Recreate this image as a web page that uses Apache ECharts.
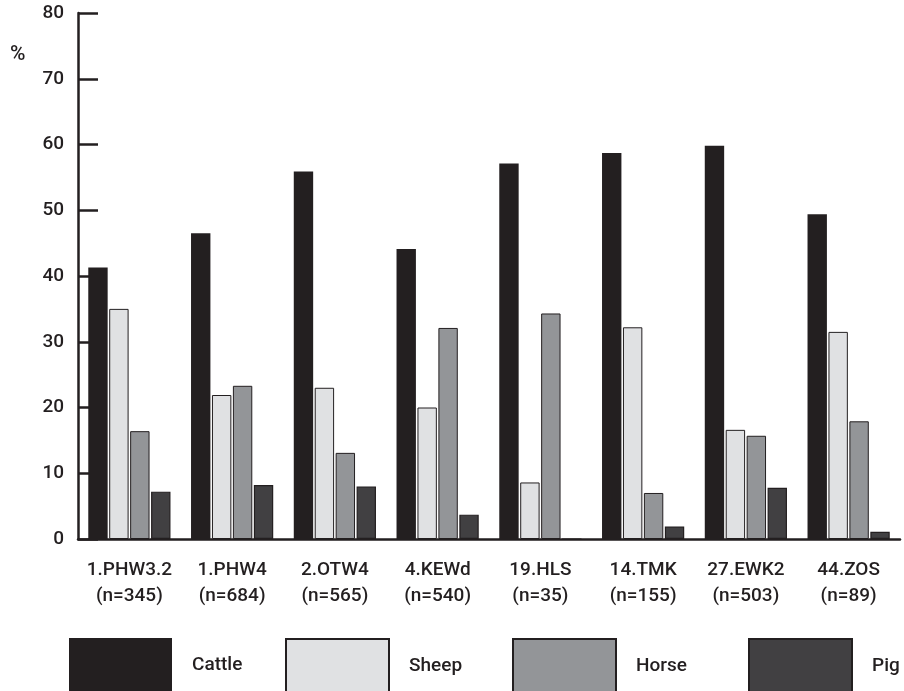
<!DOCTYPE html>
<html>
<head>
<meta charset="utf-8">
<script src="https://cdn.jsdelivr.net/npm/echarts@6/dist/echarts.min.js"></script>
<style>
html,body{margin:0;padding:0;background:#fff;}
#chart{width:904px;height:691px;}
</style>
</head>
<body>
<div id="chart"></div>
<script>
const categories = ['1.PHW3.2\n(n=345)', '1.PHW4\n(n=684)', '2.OTW4\n(n=565)', '4.KEWd\n(n=540)', '19.HLS\n(n=35)', '14.TMK\n(n=155)', '27.EWK2\n(n=503)', '44.ZOS\n(n=89)'];
const cattle = [41.3, 46.5, 55.9, 44.1, 57.1, 58.7, 59.8, 49.4];
const sheep  = [35.0, 21.9, 23.0, 20.0, 8.6, 32.2, 16.6, 31.5];
const horse  = [16.4, 23.3, 13.1, 32.1, 34.3, 7.0, 15.7, 17.9];
const pig    = [7.2, 8.2, 8.0, 3.7, 0, 1.9, 7.8, 1.1];
const yTicks = { min: 0, max: 80, interval: 10 };

const FONT = "Roboto, 'DejaVu Sans Condensed', sans-serif";
const INK = '#231f20';
const WEIGHT = 500;

const chart = echarts.init(document.getElementById('chart'));

function legendAt(name, left) {
  return {
    data: [name],
    left: left,
    top: 638,
    padding: 0,
    itemWidth: 103,
    itemHeight: 54,
    icon: 'rect',
    selectedMode: false,
    textStyle: { fontFamily: FONT, fontSize: 19, fontWeight: WEIGHT, color: INK, padding: [0, 0, 0, 15] }
  };
}

chart.setOption({
  animation: false,
  backgroundColor: '#fff',
  title: {
    text: '%',
    left: 10,
    top: 44,
    padding: 0,
    textStyle: { fontFamily: FONT, fontSize: 21, fontWeight: WEIGHT, color: INK }
  },
  legend: [
    legendAt('Cattle', 69),
    legendAt('Sheep', 285),
    legendAt('Horse', 512),
    legendAt('Pig', 748)
  ],
  grid: { left: 78, right: 4, top: 13, bottom: 152, containLabel: false },
  xAxis: {
    type: 'category',
    data: categories,
    axisLine: { lineStyle: { color: INK, width: 2.5 } },
    axisTick: { inside: true, length: 12, lineStyle: { color: INK, width: 2.5 } },
    axisLabel: { fontFamily: FONT, fontSize: 19, fontWeight: WEIGHT, color: INK, lineHeight: 26, margin: 18, interval: 0 }
  },
  yAxis: {
    type: 'value',
    min: yTicks.min,
    max: yTicks.max,
    interval: yTicks.interval,
    axisLine: { show: true, lineStyle: { color: INK, width: 2.5 } },
    axisTick: { show: true, inside: true, length: 20, lineStyle: { color: INK, width: 2.5 } },
    axisLabel: { fontFamily: FONT, fontSize: 19, fontWeight: WEIGHT, color: INK, margin: 14 },
    splitLine: { show: false }
  },
  series: [
    { name: 'Cattle', type: 'bar', data: cattle, barGap: '8%', barCategoryGap: '20%',
      itemStyle: { color: INK } },
    { name: 'Sheep', type: 'bar', data: sheep,
      itemStyle: { color: '#e0e1e3', borderColor: INK, borderWidth: 1 } },
    { name: 'Horse', type: 'bar', data: horse,
      itemStyle: { color: '#939598', borderColor: INK, borderWidth: 1 } },
    { name: 'Pig', type: 'bar', data: pig,
      itemStyle: { color: '#414042', borderColor: INK, borderWidth: 1.2 } }
  ]
});
</script>
</body>
</html>
